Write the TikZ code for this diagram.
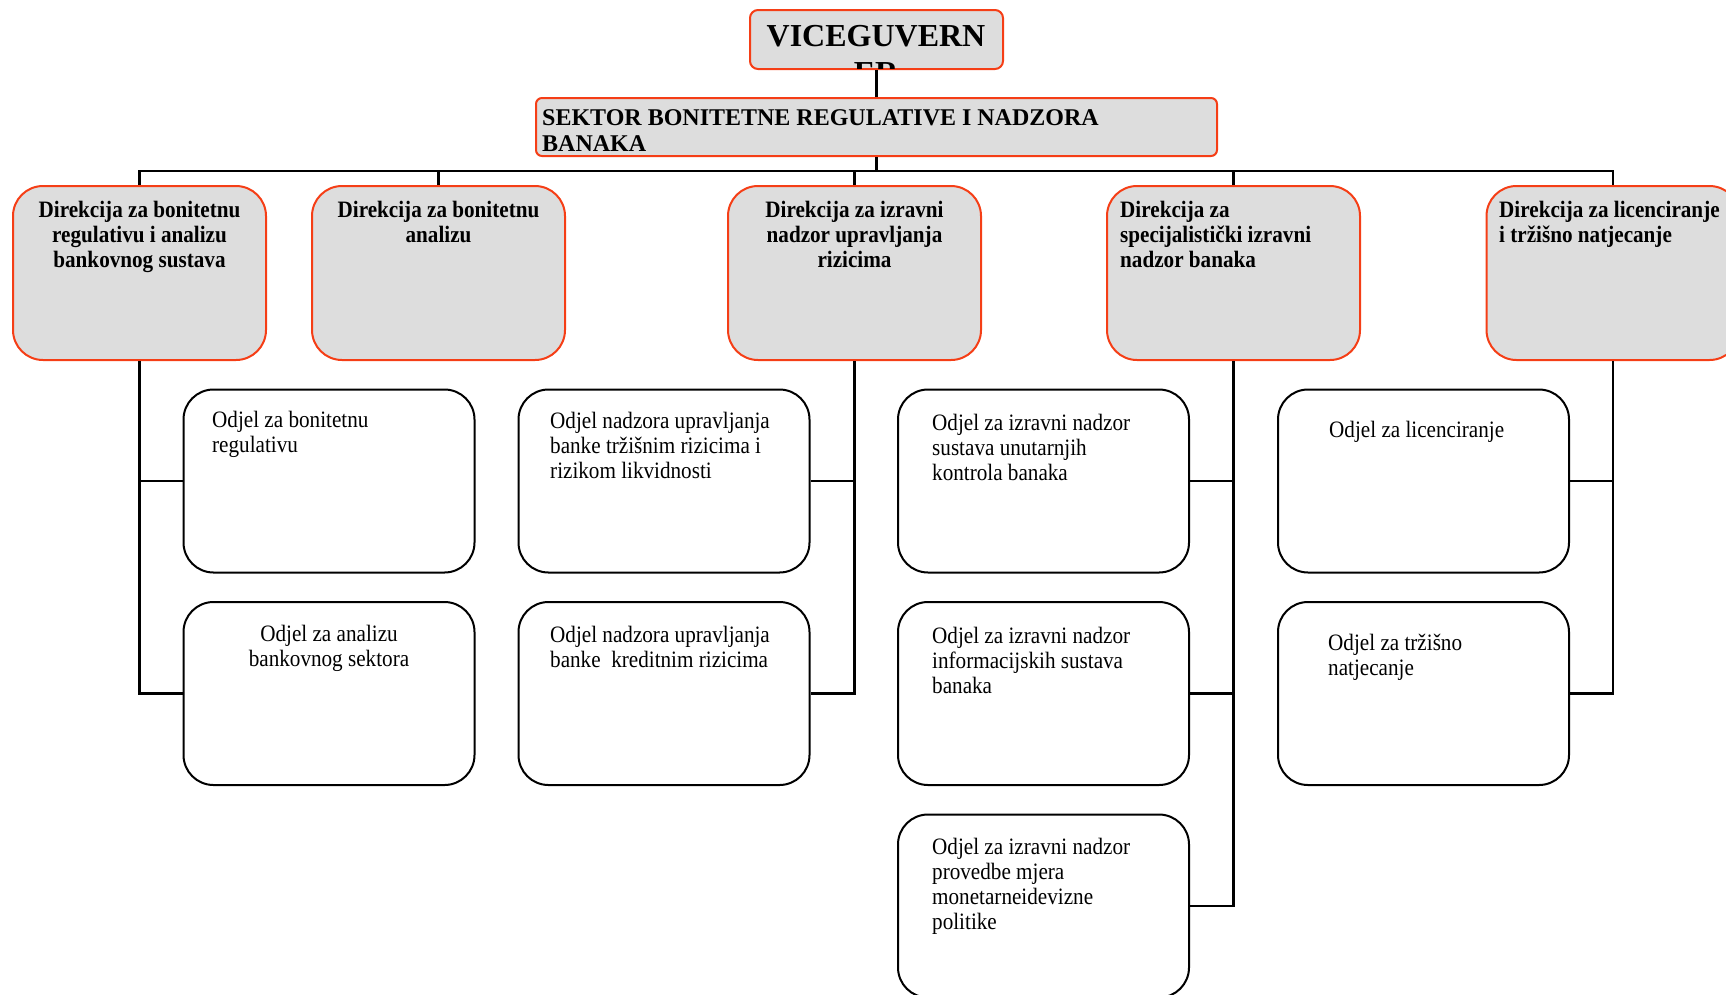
\documentclass[tikz,border=0pt]{standalone}
\usepackage{fontspec}
\setmainfont{Liberation Serif}
\newfontfamily\condf{Liberation Serif}[FakeStretch=0.9]
\definecolor{boxred}{RGB}{245,62,22}
\definecolor{boxgray}{RGB}{221,221,221}
\tikzset{
  dirbox/.style={draw=boxred, fill=boxgray, line width=2pt, rounded corners=30pt,
    minimum width=253pt, minimum height=174pt, inner sep=0pt},
  odbox/.style={draw=black, fill=white, line width=2pt, rounded corners=30pt,
    minimum width=291pt, minimum height=183pt, inner sep=0pt},
  topbox/.style={draw=boxred, fill=boxgray, line width=2pt, inner sep=0pt},
  conn/.style={draw=black, line width=2.8pt},
  dirtext/.style={font=\condf\bfseries\fontsize{23.5}{25}\selectfont, inner sep=0pt},
  odtext/.style={font=\condf\fontsize{23.5}{25}\selectfont, inner sep=0pt, align=left, anchor=base west},
}
\begin{document}
\begin{tikzpicture}[x=1pt,y=-1pt]
\useasboundingbox (0,0) rectangle (1726,994);
\clip (0,0) rectangle (1726,994);
% top boxes
\node[topbox, rounded corners=8pt, minimum width=253pt, minimum height=59pt] (vice) at (876.5,39.5) {};
\begin{scope}
  \clip (751,11) rectangle (1002,68);
  \node[anchor=base, align=center, inner sep=0pt, font=\bfseries\fontsize{32}{37}\selectfont] (vicetext) at (876,83) {VICEGUVERN\\ER};
\end{scope}
\node[topbox, rounded corners=6pt, minimum width=681pt, minimum height=58pt] (sektor) at (876.5,127) {};
\node[anchor=base west, align=left, inner sep=0pt, font=\bfseries\fontsize{24}{26}\selectfont] (sektortext) at (542,151) {SEKTOR BONITETNE REGULATIVE I NADZORA\\BANAKA};
% direkcije
\node[dirbox] (d1) at (139.5,273) {};
\node[dirbox] (d2) at (438.5,273) {};
\node[dirbox] (d3) at (854.5,273) {};
\node[dirbox] (d4) at (1233.5,273) {};
\node[dirbox] (d5) at (1613,273) {};
\node[dirtext, anchor=base, align=center] (d1t) at (139.5,267) {Direkcija za bonitetnu\\regulativu i analizu\\bankovnog sustava};
\node[dirtext, anchor=base, align=center] (d2t) at (438.5,242) {Direkcija za bonitetnu\\analizu};
\node[dirtext, anchor=base, align=center] (d3t) at (854.5,267) {Direkcija za izravni\\nadzor upravljanja\\rizicima};
\node[dirtext, anchor=base west, align=left] (d4t) at (1120,267) {Direkcija za\\specijalistički izravni\\nadzor banaka};
\node[dirtext, anchor=base west, align=left] (d5t) at (1499,242) {Direkcija za licenciranje\\i tržišno natjecanje};
% odjeli
\node[odbox] (oa1) at (329,481) {};
\node[odbox] (oa2) at (329,693.5) {};
\node[odbox] (ob1) at (664,481) {};
\node[odbox] (ob2) at (664,693.5) {};
\node[odbox] (oc1) at (1043.5,481) {};
\node[odbox] (oc2) at (1043.5,693.5) {};
\node[odbox] (oc3) at (1043.5,906) {};
\node[odbox] (od1) at (1423.5,481) {};
\node[odbox] (od2) at (1423.5,693.5) {};
\node[odtext] (oa1t) at (212,452) {Odjel za bonitetnu\\regulativu};
\node[odtext, anchor=base, align=center] (oa2t) at (329,666) {Odjel za analizu\\bankovnog sektora};
\node[odtext] (ob1t) at (550,478) {Odjel nadzora upravljanja\\banke tržišnim rizicima i\\rizikom likvidnosti};
\node[odtext] (ob2t) at (550,667) {Odjel nadzora upravljanja\\banke\ \ kreditnim rizicima};
\node[odtext] (oc1t) at (932,480) {Odjel za izravni nadzor\\sustava unutarnjih\\kontrola banaka};
\node[odtext] (oc2t) at (932,693) {Odjel za izravni nadzor\\informacijskih sustava\\banaka};
\node[odtext] (oc3t) at (932,929) {Odjel za izravni nadzor\\provedbe mjera\\monetarneidevizne\\politike};
\node[odtext] (od1t) at (1329,437) {Odjel za licenciranje};
\node[odtext] (od2t) at (1328,675) {Odjel za tržišno\\natjecanje};
% connectors
\coordinate (bus) at (876.5,171);
\draw[conn] (vice.south) -- (sektor.north);
\draw[conn] (sektor.south) -- (bus);
\draw[conn] (d1.north) -- (d1.north |- bus) -- (d5.north |- bus) -- (d5.north);
\draw[conn] (d2.north) -- (d2.north |- bus);
\draw[conn] (d3.north) -- (d3.north |- bus);
\draw[conn] (d4.north) -- (d4.north |- bus);
\draw[conn] (d1.south) |- (oa1.west);
\draw[conn] (d1.south) |- (oa2.west);
\draw[conn] (d3.south) |- (ob1.east);
\draw[conn] (d3.south) |- (ob2.east);
\draw[conn] (d4.south) |- (oc1.east);
\draw[conn] (d4.south) |- (oc2.east);
\draw[conn] (d4.south) |- (oc3.east);
\draw[conn] (d5.south) |- (od1.east);
\draw[conn] (d5.south) |- (od2.east);
\end{tikzpicture}
\end{document}
